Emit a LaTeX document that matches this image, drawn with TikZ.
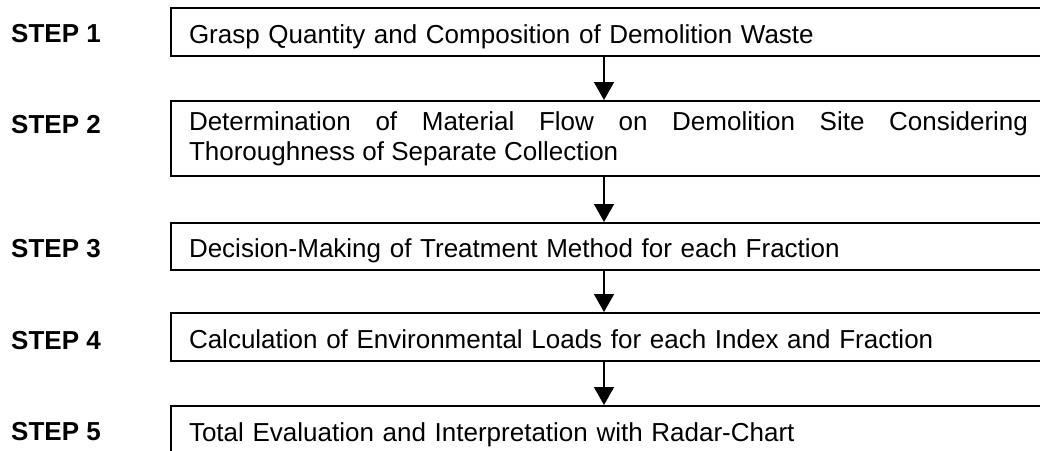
\documentclass[tikz,border=0pt]{standalone}
\usepackage{fontspec}
\setmainfont{Liberation Sans}
\usetikzlibrary{arrows.meta}
\tikzset{
  stepbox/.style={draw=black, line width=2pt, anchor=north west, inner xsep=18pt, inner ysep=0pt,
    text width=839pt, align=left, font=\fontsize{26}{30}\selectfont},
  onebox/.style={stepbox, text height=22.5pt, text depth=0pt, minimum height=48pt},
  steplabel/.style={anchor=base west, inner sep=0pt, font=\fontsize{26}{30}\selectfont\bfseries},
  flowarrow/.style={line width=1.5pt, -{Triangle[width=20pt,length=18pt]}}
}
\begin{document}
\begin{tikzpicture}[x=1pt,y=-1pt]
\useasboundingbox (0,0) rectangle (1040,450);
\clip (0,0) rectangle (1040,450);
\node[onebox] (b1) at (170,7) {Grasp Quantity and Composition of Demolition Waste};
\node[stepbox, minimum height=75pt, align=justify] (b2) at (170,100)
  {\hyphenpenalty=10000 Determination of Material Flow on Demolition Site Considering\linebreak Thoroughness of Separate Collection};
\node[onebox, minimum height=47pt] (b3) at (170,222) {Decision-Making of Treatment Method for each Fraction};
\node[onebox] (b4) at (170,312) {Calculation of Environmental Loads for each Index and Fraction};
\node[onebox] (b5) at (170,405) {Total Evaluation and Interpretation with Radar-Chart};
\node[steplabel] (s1) at (11,42) {STEP 1};
\node[steplabel] (s2) at (11,133) {STEP 2};
\node[steplabel] (s3) at (11,257) {STEP 3};
\node[steplabel] (s4) at (11,349) {STEP 4};
\node[steplabel] (s5) at (11,440) {STEP 5};
\coordinate (ax) at (604,0);
\draw[flowarrow] (b1.south -| ax) -- (b2.north -| ax);
\draw[flowarrow] (b2.south -| ax) -- (b3.north -| ax);
\draw[flowarrow] (b3.south -| ax) -- (b4.north -| ax);
\draw[flowarrow] (b4.south -| ax) -- (b5.north -| ax);
\end{tikzpicture}
\end{document}
